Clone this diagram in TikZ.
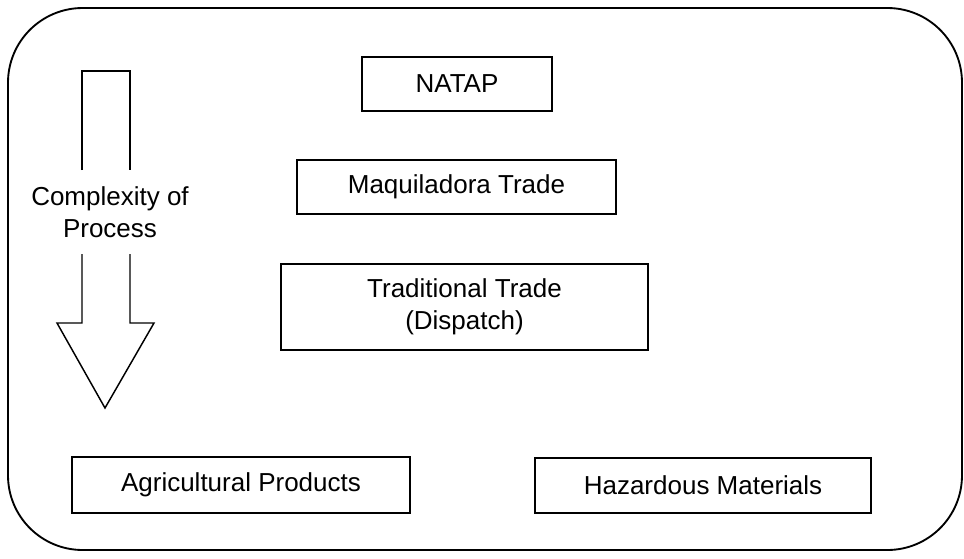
\documentclass[tikz,border=0pt]{standalone}
\usepackage{fontspec}
\setmainfont{Liberation Sans}
\begin{document}
\begin{tikzpicture}[x=0.75pt,y=-0.75pt,
  box/.style={draw, line width=1.1pt, inner sep=0pt, align=center,
    font=\fontsize{19.5}{24}\selectfont},
  lbl/.style={align=center, inner sep=0pt, font=\fontsize{19.5}{24}\selectfont},
  outline/.style={line width=1.1pt, line join=miter}]
\useasboundingbox (0,0) rectangle (964,558);
\draw[line width=1.4pt, rounded corners=56pt] (8,8) rectangle (962,550);

\node[box, minimum width=142.5pt, minimum height=40.5pt] (natap) at (457,84) {NATAP};
\node[box, minimum width=239.25pt, minimum height=40.5pt] (maq) at (456.5,187) {Maquiladora Trade};
\node[box, minimum width=275.25pt, minimum height=64.5pt] (trad) at (464.5,307) {Traditional Trade\\(Dispatch)};
\node[box, minimum width=253.5pt, minimum height=42pt] (agri) at (241,485) {Agricultural Products};
\node[box, minimum width=252pt, minimum height=41.25pt] (haz) at (703,485.5) {Hazardous Materials};

\node[lbl] (cx) at (110,212) {Complexity of\\Process};
\coordinate (ta) at (82,170);
\coordinate (tb) at (130,170);
\coordinate (ba) at (82,254);
\coordinate (bb) at (130,254);
\draw[outline] (ta) -- (82,71) -- (130,71) -- (tb);
\draw[outline] (ba) -- (82,323) -- (57,323) -- (105,408) -- (154,323) -- (130,323) -- (bb);
\end{tikzpicture}
\end{document}
